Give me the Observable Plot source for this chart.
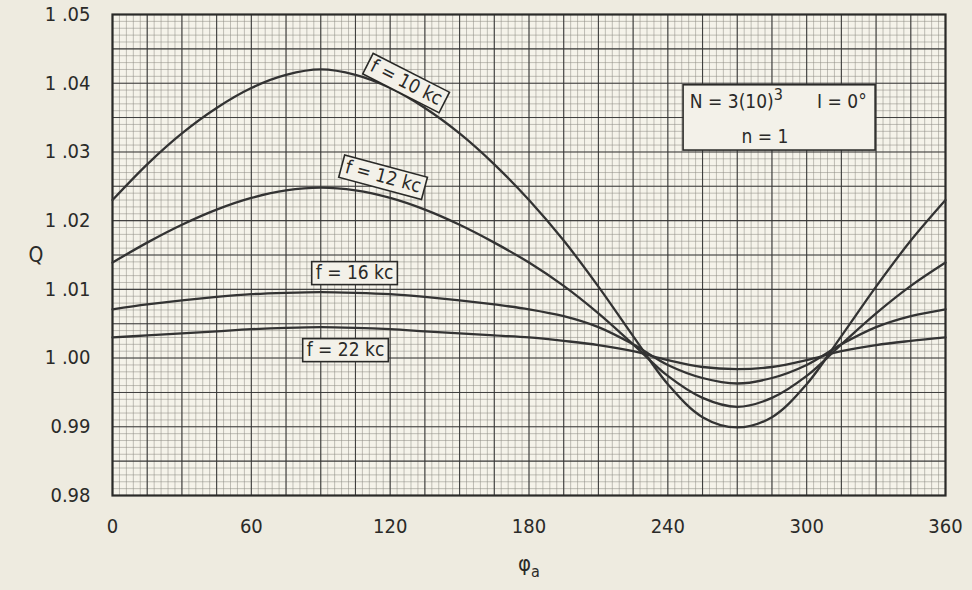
<!DOCTYPE html>
<html><head><meta charset="utf-8">
<script src="https://cdn.jsdelivr.net/npm/d3@7"></script>
<script src="https://cdn.jsdelivr.net/npm/@observablehq/plot@0.6"></script>
<style>
html,body{margin:0;padding:0;background:#eeebe0;}
#chart svg{display:block;font-stretch:condensed;}
</style></head><body><div id="chart"></div>
<script>
// ---- data ----
const phi = [0,15,30,45,60,75,90,105,120,135,150,165,180,195,210,225,240,255,270,285,300,315,330,345,360];
const q10 = [1.0230,1.0282,1.0327,1.0364,1.0393,1.0412,1.0420,1.0412,1.0393,1.0364,1.0327,1.0282,1.0230,1.0171,1.0104,1.0032,0.9962,0.9914,0.9899,0.9914,0.9962,1.0032,1.0104,1.0171,1.0230];
const q12 = [1.0139,1.0168,1.0194,1.0216,1.0233,1.0244,1.0248,1.0244,1.0233,1.0216,1.0194,1.0168,1.0139,1.0105,1.0065,1.0020,0.9974,0.9942,0.9929,0.9942,0.9974,1.0020,1.0065,1.0105,1.0139];
const q16 = [1.0071,1.0078,1.0084,1.0089,1.0093,1.0095,1.0096,1.0095,1.0093,1.0089,1.0084,1.0078,1.0071,1.0061,1.0045,1.0020,0.9990,0.9971,0.9963,0.9971,0.9990,1.0020,1.0045,1.0061,1.0071];
const q22 = [1.0030,1.0033,1.0036,1.0039,1.0042,1.0044,1.0045,1.0044,1.0042,1.0039,1.0036,1.0033,1.0030,1.0025,1.0019,1.0010,0.9997,0.9987,0.9984,0.9987,0.9997,1.0010,1.0019,1.0025,1.0030];
const seriesNames = ["f = 10 kc","f = 12 kc","f = 16 kc","f = 22 kc"];
const xTicks = [0,60,120,180,240,300,360];
const yTicks = [0.98,0.99,1.00,1.01,1.02,1.03,1.04,1.05];
const infoLines = ["N = 3(10)3","I = 0°","n = 1"];

// ---- annotation placement (data coordinates) ----
const curveLabels = [
  {text: seriesNames[0], x: 127, y: 1.0401, r: 27},
  {text: seriesNames[1], x: 117, y: 1.0264, r: 15},
  {text: seriesNames[2], x: 104.6, y: 1.01245, r: 0},
  {text: seriesNames[3], x: 100.7, y: 1.00124, r: 0}
];
const infoBox = {x1: 246.8, x2: 329.8, y1: 1.0302, y2: 1.0397};

const allSeries = [q10, q12, q16, q22];
const data = allSeries.flatMap((s, k) => phi.map((p, i) => ({phi: p, Q: s[i], f: seriesNames[k]})));

const minorX = d3.range(0, 121).map(v => v * 3);
const majorX = d3.range(0, 25).map(v => v * 15);
const minorY = d3.range(980, 1051).map(v => v / 1000);
const majorY = d3.range(196, 211).map(v => v / 200);

const font = "'DejaVu Sans Condensed','DejaVu Sans',sans-serif";
const ink = "#2a2a28";
const paper = "#f3f1e9";

const plot = Plot.plot({
  width: 972, height: 590,
  marginLeft: 112, marginRight: 27, marginTop: 14, marginBottom: 95,
  style: {background: "#eeebe0", fontFamily: font, fontSize: "20px", color: ink},
  x: {domain: [0, 360]},
  y: {domain: [0.98, 1.05]},
  marks: [
    Plot.frame({fill: "#f5f3ea"}),
    Plot.gridX(minorX, {stroke: "#8c8a82", strokeOpacity: 0.75, strokeWidth: 0.7}),
    Plot.gridY(minorY, {stroke: "#8c8a82", strokeOpacity: 0.75, strokeWidth: 0.7}),
    Plot.gridX(majorX, {stroke: "#333", strokeOpacity: 0.9, strokeWidth: 1.1}),
    Plot.gridY(majorY, {stroke: "#333", strokeOpacity: 0.9, strokeWidth: 1.1}),
    Plot.frame({stroke: ink, strokeWidth: 2.2}),
    Plot.line(data, {x: "phi", y: "Q", z: "f", stroke: "#333", strokeWidth: 2.3, curve: "catmull-rom"}),
    Plot.axisX(xTicks, {tickSize: 0, tickPadding: 23, label: null, fontSize: 20}),
    Plot.axisY(yTicks, {tickSize: 0, tickPadding: 22, label: null, fontSize: 20, tickFormat: d => d3.format(".2f")(d).replace(/^1\./, "1 .")}),
    Plot.text(["Q"], {frameAnchor: "left", dx: -84, fontSize: 21, fill: ink}),
    Plot.text(["φa"], {frameAnchor: "bottom", dy: 75, fontSize: 22, fill: ink, className: "philabel"}),
    Plot.text(curveLabels, {x: "x", y: "y", text: "text", rotate: "r", fontSize: 19, fill: ink, className: "curvelabel"}),
    Plot.rect([infoBox], {x1: "x1", x2: "x2", y1: "y1", y2: "y2", fill: paper, stroke: ink, strokeWidth: 1.6}),
    Plot.text([infoLines[0]], {x: 249.5, y: 1.0373, textAnchor: "start", fontSize: 19, fill: ink, className: "infoN"}),
    Plot.text([infoLines[1]], {x: 304.5, y: 1.0373, textAnchor: "start", fontSize: 19, fill: ink}),
    Plot.text([infoLines[2]], {x: 282, y: 1.0322, textAnchor: "middle", fontSize: 19, fill: ink})
  ]
});
document.getElementById("chart").appendChild(plot);

const ns = "http://www.w3.org/2000/svg";
// boxes behind (rotated) curve labels
plot.querySelectorAll("g.curvelabel text").forEach(t => {
  const b = t.getBBox();
  const r = document.createElementNS(ns, "rect");
  r.setAttribute("x", b.x - 4); r.setAttribute("y", b.y + 1);
  r.setAttribute("width", b.width + 8); r.setAttribute("height", b.height + 1);
  r.setAttribute("fill", paper); r.setAttribute("stroke", ink); r.setAttribute("stroke-width", 1.6);
  const tr = t.getAttribute("transform"); if (tr) r.setAttribute("transform", tr);
  t.parentNode.insertBefore(r, t);
});
// superscript in N = 3(10)^3
plot.querySelectorAll("g.infoN text").forEach(t => {
  t.textContent = "N = 3(10)";
  const s = document.createElementNS(ns, "tspan");
  s.setAttribute("dy", "-8"); s.setAttribute("font-size", "16"); s.textContent = "3";
  t.appendChild(s);
});
// subscript a in phi_a
plot.querySelectorAll("g.philabel text").forEach(t => {
  t.textContent = "φ";
  const s = document.createElementNS(ns, "tspan");
  s.setAttribute("dy", "6"); s.setAttribute("font-size", "16"); s.textContent = "a";
  t.appendChild(s);
});
</script></body></html>
